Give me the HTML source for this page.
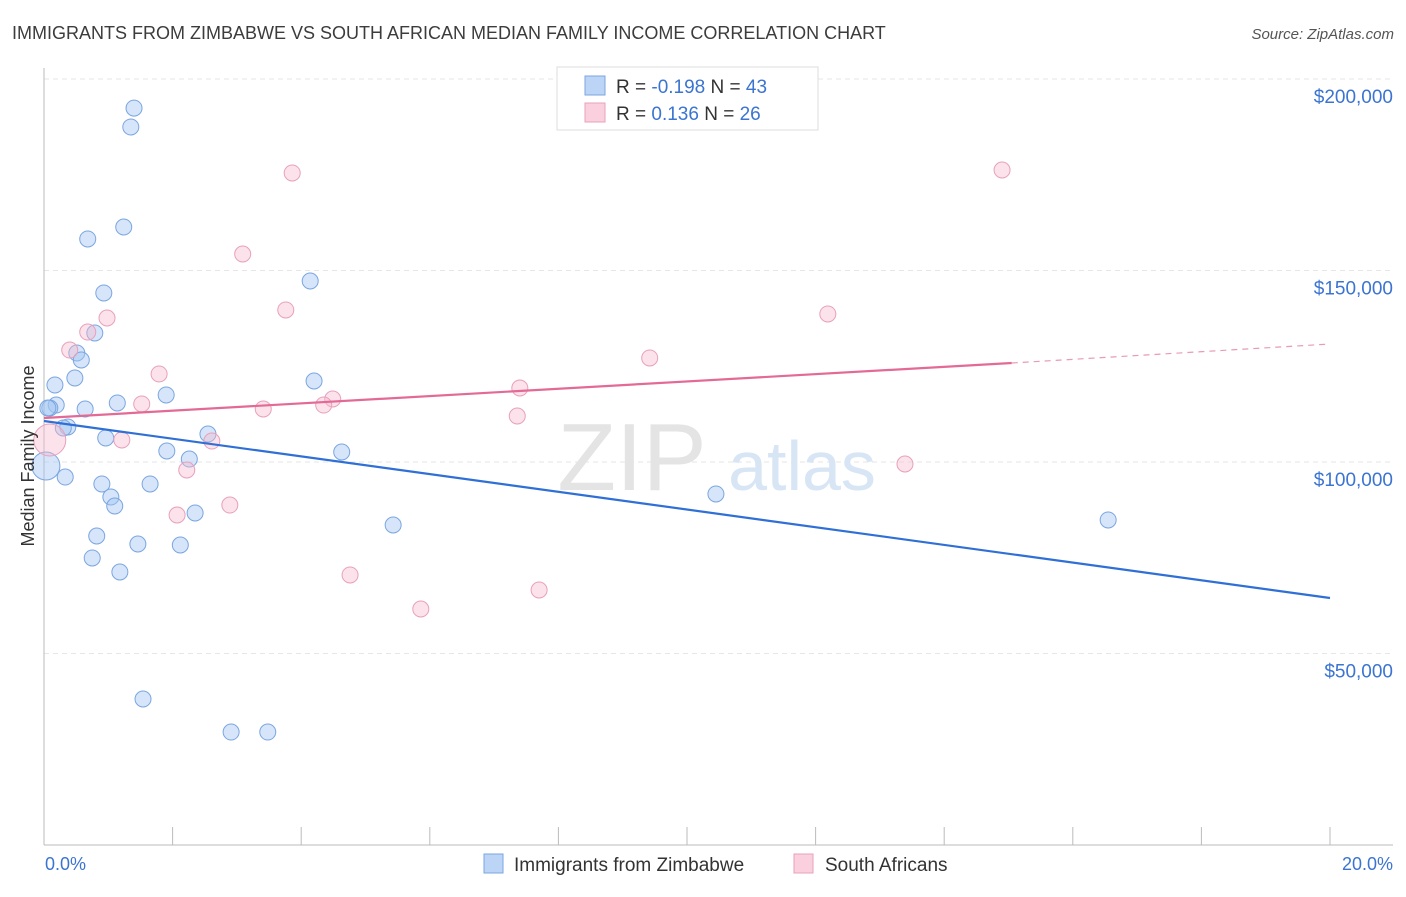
<!DOCTYPE html>
<html><head><meta charset="utf-8">
<style>
body{margin:0;background:#fff;font-family:"Liberation Sans",sans-serif;}
svg text{font-family:"Liberation Sans",sans-serif;}
</style></head>
<body>
<svg id="chart" width="1406" height="892" xmlns="http://www.w3.org/2000/svg">
<text x="12" y="39" font-size="18" fill="#3c3c3c">IMMIGRANTS FROM ZIMBABWE VS SOUTH AFRICAN MEDIAN FAMILY INCOME CORRELATION CHART</text>
<text x="1394" y="39" font-size="15" fill="#555" text-anchor="end" font-style="italic">Source: ZipAtlas.com</text>
<g id="grid"></g>
<g>
<text x="632" y="490" font-size="96" fill="#e4e4e4" font-family="Liberation Serif" text-anchor="middle">ZIP</text>
<text x="802" y="490" font-size="70" fill="#d7e5f5" text-anchor="middle">atlas</text>
</g>
<g id="axes"></g>
<g id="points"></g>
<g id="trends"></g>
<text transform="translate(34,456) rotate(-90)" font-size="18" fill="#333" text-anchor="middle">Median Family Income</text>
<text x="45" y="870" font-size="18" fill="#3b74d1">0.0%</text>
<text x="1393" y="870" font-size="18" fill="#3b74d1" text-anchor="end">20.0%</text>
<g>
<rect x="557" y="67" width="261" height="63" fill="#fff" stroke="#ddd"/>
<rect x="585" y="76" width="20" height="19" fill="#bcd4f5" stroke="#7aa6e0"/>
<rect x="585" y="103" width="20" height="19" fill="#fbd0de" stroke="#e8a0bb"/>
<text x="616" y="93" font-size="19" fill="#333">R = <tspan fill="#3b74d1">-0.198</tspan>   N = <tspan fill="#3b74d1">43</tspan></text>
<text x="616" y="120" font-size="19" fill="#333">R = <tspan fill="#3b74d1"> 0.136</tspan>   N = <tspan fill="#3b74d1">26</tspan></text>
</g>
<g>
<rect x="484" y="854" width="19" height="19" fill="#bcd4f5" stroke="#7aa6e0"/>
<text x="514" y="871" font-size="19" fill="#333">Immigrants from Zimbabwe</text>
<rect x="794" y="854" width="19" height="19" fill="#fbd0de" stroke="#e8a0bb"/>
<text x="825" y="871" font-size="19" fill="#333">South Africans</text>
</g>
</svg>
<script>
const yTicks=[50000,100000,150000,200000];
const yTickLabels=["$50,000","$100,000","$150,000","$200,000"];
const xTicks=[0,2,4,6,8,10,12,14,16,18,20];
const blueX=[1.40,1.35,1.24,0.68,0.93,4.14,0.79,0.51,0.58,0.17,0.48,4.20,0.19,0.09,0.64,1.14,1.90,0.37,0.30,0.96,2.55,4.63,1.91,2.26,0.33,0.90,1.65,1.04,1.10,2.35,5.43,10.45,16.55,0.82,1.46,2.12,0.75,1.18,1.54,2.91,3.48,0.03,0.06];
const blueY=[192400,187470,161360,158230,144130,147260,133680,128460,126630,120110,121930,121150,114880,114100,113840,115410,117500,109140,108880,106270,107310,102610,102870,100780,96080,94260,94260,90860,88510,86690,83550,91650,84860,80680,78590,78330,74940,71280,38120,29500,29500,98960,114100];
const blueR=[8,8,8,8,8,8,8,8,8,8,8,8,8,8,8,8,8,8,8,8,8,8,8,8,8,8,8,8,8,8,8,8,8,8,8,8,8,8,8,8,8,14,8];
const pinkX=[3.86,14.90,3.09,3.76,12.19,0.98,0.68,0.40,9.42,1.79,7.40,4.49,1.52,3.41,4.35,7.36,1.21,2.61,2.22,13.39,2.89,2.07,4.76,7.70,5.86,0.09];
const pinkY=[175460,176240,154310,139690,138650,137600,133940,129240,127160,122980,119320,116450,115150,113840,114880,112010,105750,105480,97910,99480,88770,86160,70500,66580,61620,105750];
const pinkR=[8,8,8,8,8,8,8,8,8,8,8,8,8,8,8,8,8,8,8,8,8,8,8,8,8,16];
const blueTrend=[[0,110700],[20,64490]];
const pinkTrend=[[0,111490],[15.05,125850],[20,130810]];
const NS="http://www.w3.org/2000/svg";
const X=v=>44+v*64.3;
const Y=v=>845-v/50000*191.5;
function mk(tag,attrs,parent){const e=document.createElementNS(NS,tag);for(const k in attrs)e.setAttribute(k,attrs[k]);document.getElementById(parent).appendChild(e);return e;}
yTicks.forEach((t,i)=>{
 const l=mk('line',{x1:44,x2:1393,y1:Y(t),y2:Y(t),stroke:'#e6e6e6','stroke-dasharray':'5,4'},'grid');
 
 
 const tx=mk('text',{x:1393,y:Y(t)+24,'font-size':19,fill:'#3b74d1','text-anchor':'end'},'grid');
 tx.textContent=yTickLabels[i];
 
 
});
const xa=mk('line',{x1:44,x2:1393,y1:845,y2:845,stroke:'#bbb'},'axes');


const ya=mk('line',{x1:44,x2:44,y1:68,y2:845,stroke:'#bbb'},'axes');


xTicks.forEach(t=>{
 const l=mk('line',{x1:X(t),x2:X(t),y1:827,y2:845,stroke:'#bbb'},'axes');
 
 
});
blueX.forEach((x,i)=>{
 const c=mk('circle',{cx:X(x),cy:Y(blueY[i]),r:blueR[i],fill:'rgba(165,198,242,0.45)',stroke:'#7aa6e0','stroke-width':1},'points');
 
 
});
pinkX.forEach((x,i)=>{
 const c=mk('circle',{cx:X(x),cy:Y(pinkY[i]),r:pinkR[i],fill:'rgba(247,185,206,0.4)',stroke:'#e8a0bb','stroke-width':1},'points');
 
 
});
const bt=mk('line',{x1:X(blueTrend[0][0]),y1:Y(blueTrend[0][1]),x2:X(blueTrend[1][0]),y2:Y(blueTrend[1][1]),stroke:'#2f6fd6','stroke-width':2.2},'trends');


const pt=mk('line',{x1:X(pinkTrend[0][0]),y1:Y(pinkTrend[0][1]),x2:X(pinkTrend[1][0]),y2:Y(pinkTrend[1][1]),stroke:'#e46a96','stroke-width':2.2},'trends');


const pd=mk('line',{x1:X(pinkTrend[1][0]),y1:Y(pinkTrend[1][1]),x2:X(pinkTrend[2][0]),y2:Y(pinkTrend[2][1]),stroke:'#e89ab6','stroke-width':1.2,'stroke-dasharray':'6,5'},'trends');


</script>
</body></html>
